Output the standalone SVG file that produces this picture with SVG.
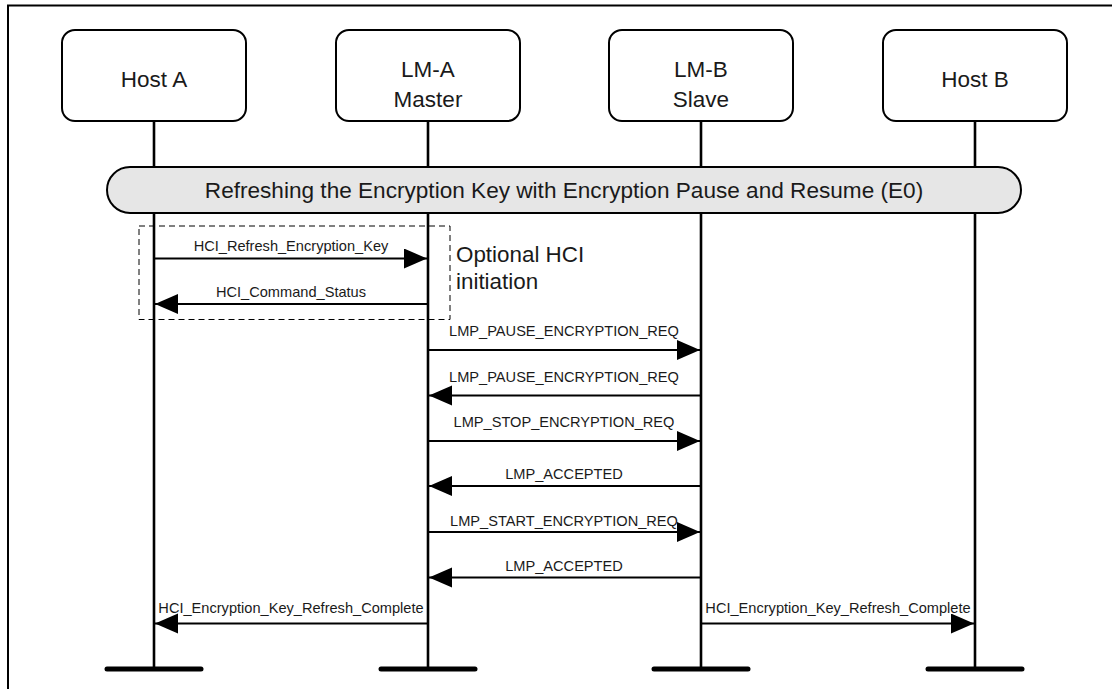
<svg xmlns="http://www.w3.org/2000/svg" width="1112" height="689" viewBox="0 0 1112 689">
<defs>
<style>
.frame{fill:none;stroke:#000;stroke-width:2}
.box{fill:#fff;stroke:#000;stroke-width:2}
.life{stroke:#000;stroke-width:2.6}
.bar{stroke:#000;stroke-width:5;stroke-linecap:round}
.msg{stroke:#000;stroke-width:2;fill:none;marker-end:url(#ah)}
.hdr{font-family:"Liberation Sans",Arial,sans-serif;font-size:22.5px;fill:#1a1a1a;text-anchor:middle}
.lbl{font-family:"Liberation Sans",Arial,sans-serif;font-size:14.6px;fill:#1a1a1a;text-anchor:middle}
.note{font-family:"Liberation Sans",Arial,sans-serif;font-size:22.4px;fill:#1a1a1a}
.banner{fill:#e6e6e6;stroke:#000;stroke-width:2}
.ttl{font-family:"Liberation Sans",Arial,sans-serif;font-size:22.6px;fill:#1a1a1a;text-anchor:middle}
.opt{fill:none;stroke:#000;stroke-width:1;stroke-dasharray:6 4}
</style>
<marker id="ah" markerUnits="userSpaceOnUse" markerWidth="24" markerHeight="21" refX="23" refY="10" orient="auto">
<path d="M0,0 L23,10 L0,20 z" fill="#000"/>
</marker>
</defs>
<rect class="frame" x="8" y="5.5" width="1120" height="700"/>
<g id="lifelines">
<line class="life" x1="154" y1="121" x2="154" y2="669"/>
<line class="life" x1="428" y1="121" x2="428" y2="669"/>
<line class="life" x1="701" y1="121" x2="701" y2="669"/>
<line class="life" x1="975" y1="121" x2="975" y2="669"/>
<line class="bar" x1="107" y1="669" x2="201" y2="669"/>
<line class="bar" x1="381" y1="669" x2="475" y2="669"/>
<line class="bar" x1="654" y1="669" x2="748" y2="669"/>
<line class="bar" x1="928" y1="669" x2="1022" y2="669"/>
</g>
<g id="hostA">
<rect class="box" x="62" y="30" width="184" height="91" rx="13"/>
<text class="hdr" x="154" y="87">Host A</text>
</g>
<g id="lmA">
<rect class="box" x="336" y="30" width="184" height="91" rx="13"/>
<text class="hdr" x="428" y="77">LM-A</text>
<text class="hdr" x="428" y="107">Master</text>
</g>
<g id="lmB">
<rect class="box" x="609" y="30" width="184" height="91" rx="13"/>
<text class="hdr" x="701" y="77">LM-B</text>
<text class="hdr" x="701" y="107">Slave</text>
</g>
<g id="hostB">
<rect class="box" x="883" y="30" width="184" height="91" rx="13"/>
<text class="hdr" x="975" y="87">Host B</text>
</g>
<g id="banner">
<rect class="banner" x="107" y="167" width="914" height="46" rx="23"/>
<text class="ttl" x="564" y="197.5">Refreshing the Encryption Key with Encryption Pause and Resume (E0)</text>
</g>
<g id="optional">
<rect class="opt" x="139" y="226" width="311" height="93.5"/>
<text class="note" x="456" y="262">Optional HCI</text>
<text class="note" x="456" y="289">initiation</text>
</g>
<g id="connectors">
<line class="msg" x1="154" y1="258.5" x2="427" y2="258.5"/>
<text class="lbl" x="291" y="251">HCI_Refresh_Encryption_Key</text>
<line class="msg" x1="428" y1="304" x2="155" y2="304"/>
<text class="lbl" x="291" y="297">HCI_Command_Status</text>
<line class="msg" x1="428" y1="350" x2="700" y2="350"/>
<text class="lbl" x="564" y="335.5">LMP_PAUSE_ENCRYPTION_REQ</text>
<line class="msg" x1="701" y1="395.5" x2="429" y2="395.5"/>
<text class="lbl" x="564" y="381.5">LMP_PAUSE_ENCRYPTION_REQ</text>
<line class="msg" x1="428" y1="441" x2="700" y2="441"/>
<text class="lbl" x="564" y="426.5">LMP_STOP_ENCRYPTION_REQ</text>
<line class="msg" x1="701" y1="486" x2="429" y2="486"/>
<text class="lbl" x="564" y="479">LMP_ACCEPTED</text>
<line class="msg" x1="428" y1="532" x2="700" y2="532"/>
<text class="lbl" x="564" y="526">LMP_START_ENCRYPTION_REQ</text>
<line class="msg" x1="701" y1="577.5" x2="429" y2="577.5"/>
<text class="lbl" x="564" y="570.5">LMP_ACCEPTED</text>
<line class="msg" x1="428" y1="623.5" x2="155" y2="623.5"/>
<text class="lbl" x="291" y="613">HCI_Encryption_Key_Refresh_Complete</text>
<line class="msg" x1="701" y1="623.5" x2="974" y2="623.5"/>
<text class="lbl" x="838" y="613">HCI_Encryption_Key_Refresh_Complete</text>
</g>
</svg>
